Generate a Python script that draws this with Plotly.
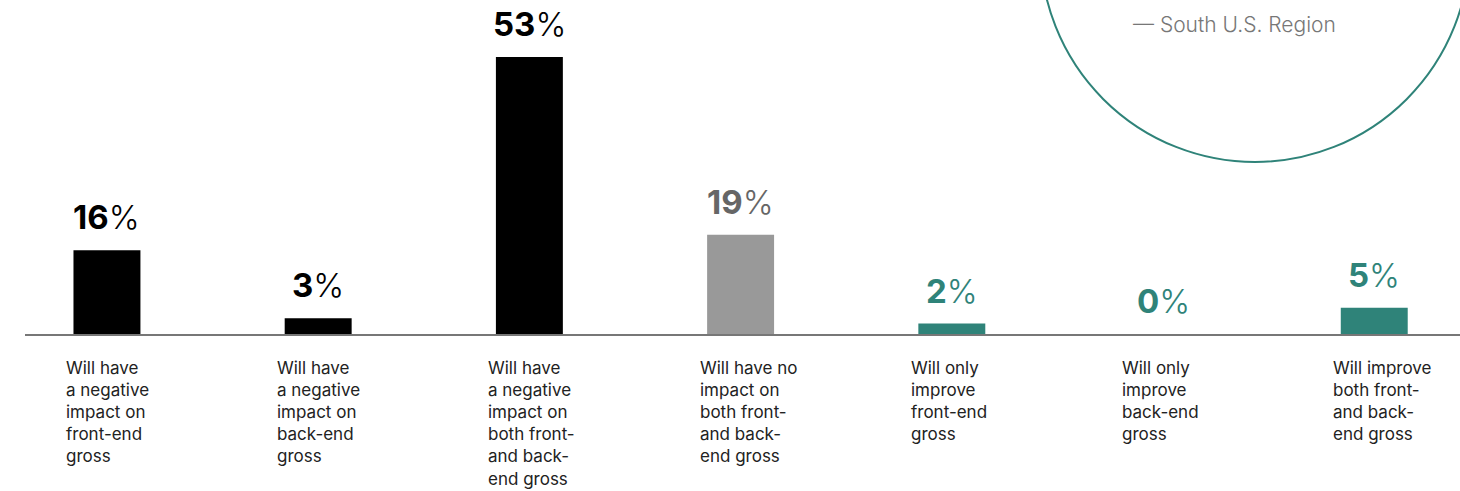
import plotly.graph_objects as go

categories = [
    "Will have<br>a negative<br>impact on<br>front-end<br>gross",
    "Will have<br>a negative<br>impact on<br>back-end<br>gross",
    "Will have<br>a negative<br>impact on<br>both front-<br>and back-<br>end gross",
    "Will have no<br>impact on<br>both front-<br>and back-<br>end gross",
    "Will only<br>improve<br>front-end<br>gross",
    "Will only<br>improve<br>back-end<br>gross",
    "Will improve<br>both front-<br>and back-<br>end gross",
]
values = [16, 3, 53, 19, 2, 0, 5]
bar_colors = ["#000000", "#000000", "#000000", "#999999", "#2f8379", "#2f8379", "#2f8379"]
label_colors = ["#000000", "#000000", "#000000", "#666666", "#2f8379", "#2f8379", "#2f8379"]
region_note = "— South U.S. Region"

FONT = "Inter, Open Sans, sans-serif"
xs = list(range(len(values)))

fig = go.Figure()
fig.add_trace(go.Bar(
    x=xs, y=values, width=0.317,
    marker=dict(color=bar_colors, line=dict(width=0)),
    hoverinfo="skip",
))

annotations = []
for x, v, c in zip(xs, values, label_colors):
    annotations.append(dict(
        x=x, y=v, xref="x", yref="y",
        text=f"<b>{v}</b><span style=\"font-weight:300\">%</span>",
        showarrow=False, yanchor="bottom", xanchor="center", yshift=11,
        font=dict(family=FONT, size=33, color=c),
    ))
for x, cat in zip(xs, categories):
    annotations.append(dict(
        x=x, y=0, xref="x", yref="y", text=cat, align="left",
        showarrow=False, yanchor="top", xanchor="left", xshift=-43, yshift=-22,
        font=dict(family=FONT, size=17, color="#222222"),
    ))

# circle callout (paper coords: plot area x 25..1460 px, y 0..334 px)
W, H, L = 1435.0, 334.0, 25.0
def px_x(p):
    return (p - L) / W
def px_y(p):
    return (H - p) / H

annotations.append(dict(
    x=px_x(1131), y=px_y(25), xref="paper", yref="paper",
    text=f"<span style=\"font-weight:300\">{region_note}</span>",
    showarrow=False, xanchor="left", yanchor="middle",
    font=dict(family=FONT, size=21, color="#777777"),
))

fig.update_layout(
    width=1460, height=491,
    margin=dict(l=25, r=0, t=0, b=157),
    paper_bgcolor="white", plot_bgcolor="white",
    showlegend=False,
    xaxis=dict(range=[-0.388, 6.406], showgrid=False, zeroline=False,
               showticklabels=False, ticks="", showline=True,
               linecolor="#777777", linewidth=1.5, fixedrange=True),
    yaxis=dict(range=[0, 63.9], visible=False, fixedrange=True),
    annotations=annotations,
    shapes=[dict(
        type="circle", xref="paper", yref="paper",
        x0=px_x(1040.5), x1=px_x(1469.5), y0=px_y(162), y1=px_y(-267),
        line=dict(color="#2f8379", width=2), layer="above",
    )],
)

fig.write_html("out.html", config={"displayModeBar": False})
